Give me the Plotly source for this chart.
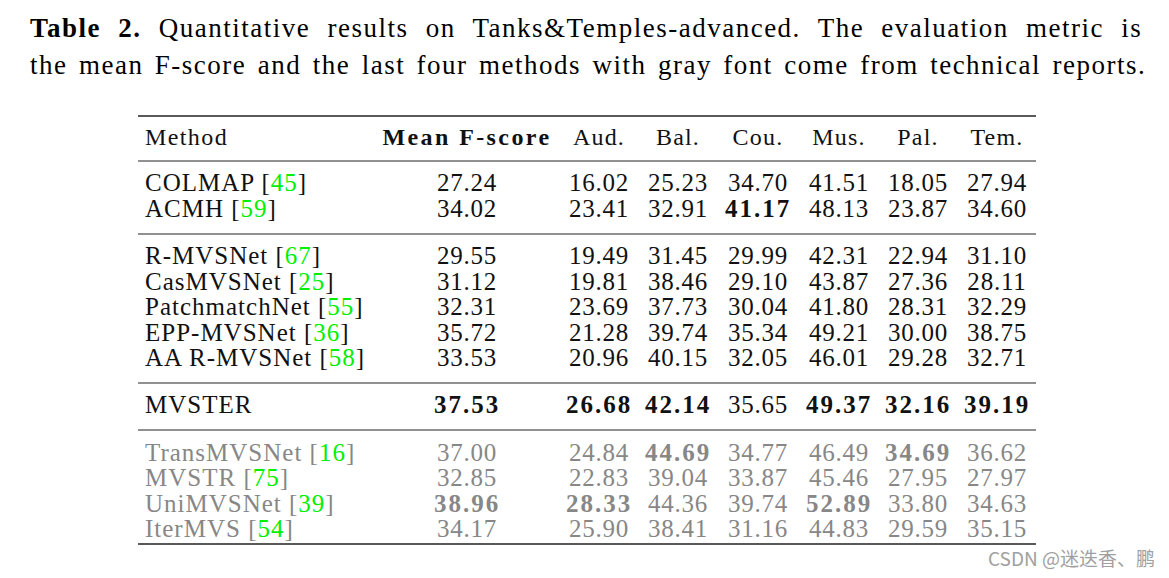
import plotly.graph_objects as go

# ---------------- data ----------------
title_lines = [
    "<b>Table 2.</b> Quantitative results on Tanks&amp;Temples-advanced. The evaluation metric is",
    "the mean F-score and the last four methods with gray font come from technical reports.",
]
headers = ["Method", "Mean F-score", "Aud.", "Bal.", "Cou.", "Mus.", "Pal.", "Tem."]
methods = ["COLMAP", "ACMH", "R-MVSNet", "CasMVSNet", "PatchmatchNet", "EPP-MVSNet",
           "AA R-MVSNet", "MVSTER", "TransMVSNet", "MVSTR", "UniMVSNet", "IterMVS"]
refs = ["45", "59", "67", "25", "55", "36", "58", None, "16", "75", "39", "54"]
groups = [0, 0, 1, 1, 1, 1, 1, 2, 3, 3, 3, 3]
gray_rows = [False] * 8 + [True] * 4

mean_f = [27.24, 34.02, 29.55, 31.12, 32.31, 35.72, 33.53, 37.53, 37.00, 32.85, 38.96, 34.17]
aud = [16.02, 23.41, 19.49, 19.81, 23.69, 21.28, 20.96, 26.68, 24.84, 22.83, 28.33, 25.90]
bal = [25.23, 32.91, 31.45, 38.46, 37.73, 39.74, 40.15, 42.14, 44.69, 39.04, 44.36, 38.41]
cou = [34.70, 41.17, 29.99, 29.10, 30.04, 35.34, 32.05, 35.65, 34.77, 33.87, 39.74, 31.16]
mus = [41.51, 48.13, 42.31, 43.87, 41.80, 49.21, 46.01, 49.37, 46.49, 45.46, 52.89, 44.83]
pal = [18.05, 23.87, 22.94, 27.36, 28.31, 30.00, 29.28, 32.16, 34.69, 27.95, 33.80, 29.59]
tem = [27.94, 34.60, 31.10, 28.11, 32.29, 38.75, 32.71, 39.19, 36.62, 27.97, 34.63, 35.15]

# bold flags per column (row indices)
bold_mean = [7, 10]
bold_aud = [7, 10]
bold_bal = [7, 8]
bold_cou = [1]
bold_mus = [7, 10]
bold_pal = [7, 8]
bold_tem = [7]

watermark = "CSDN @迷迭香、鹏"

# ---------------- layout constants ----------------
W, H = 1169, 578
PAD = 8                      # browser body margin
FONT = "Liberation Serif"
BLACK = "#111111"
GRAY = "#878787"
GREEN = "#00f000"
TFS = 25                     # table font size
x_method = 145
x_cols = [467, 599, 678, 758, 839, 918, 997]
y_header = 139
y_first = 185
pitch = 25.6
gap = 21.5
rule_x0, rule_x1 = 138, 1036


def row_y(i):
    return y_first + i * pitch + groups[i] * gap


rows_y = [row_y(i) for i in range(len(methods))]

fig = go.Figure()

# method column
method_txt = []
for m, r, g in zip(methods, refs, gray_rows):
    c = GRAY if g else BLACK
    s = f"<span style='color:{c}'>{m}"
    if r:
        s += f" [<span style='color:{GREEN}'>{r}</span>]"
    s += "</span>"
    method_txt.append(f"<span style='letter-spacing:1px'>{s}</span>")

fig.add_trace(go.Scatter(
    x=[x_method] * len(methods), y=rows_y, mode="text", text=method_txt,
    textposition="middle right", textfont=dict(family=FONT, size=TFS, color=BLACK),
    hoverinfo="skip", showlegend=False, cliponaxis=False))

cols = [(mean_f, bold_mean), (aud, bold_aud), (bal, bold_bal), (cou, bold_cou),
        (mus, bold_mus), (pal, bold_pal), (tem, bold_tem)]
for xc, (vals, bolds) in zip(x_cols, cols):
    txt = []
    colors = []
    for i, v in enumerate(vals):
        s = f"{v:.2f}"
        if i in bolds:
            s = f"<b><span style='letter-spacing:2px'>{s}</span></b>"
        else:
            s = f"<span style='letter-spacing:0.8px'>{s}</span>"
        txt.append(s)
        colors.append(GRAY if gray_rows[i] else BLACK)
    fig.add_trace(go.Scatter(
        x=[xc] * len(vals), y=rows_y, mode="text", text=txt,
        textposition="middle center",
        textfont=dict(family=FONT, size=TFS, color=colors),
        hoverinfo="skip", showlegend=False, cliponaxis=False))

# header
hdr_txt = [f"<span style='letter-spacing:1.4px'>{headers[0]}</span>",
           f"<b><span style='letter-spacing:2.4px'>{headers[1]}</span></b>"] + \
          [f"<span style='letter-spacing:1.2px'>{h}</span>" for h in headers[2:]]
fig.add_trace(go.Scatter(
    x=[x_method], y=[y_header], mode="text", text=hdr_txt[:1],
    textposition="middle right", textfont=dict(family=FONT, size=TFS - 1, color=BLACK),
    hoverinfo="skip", showlegend=False, cliponaxis=False))
fig.add_trace(go.Scatter(
    x=x_cols, y=[y_header] * len(x_cols), mode="text", text=hdr_txt[1:],
    textposition="middle center", textfont=dict(family=FONT, size=TFS - 1, color=BLACK),
    hoverinfo="skip", showlegend=False, cliponaxis=False))

# rules
rule_y = [116, 161, 234, 383, 430, 544]
rule_w = [1.6, 1.1, 1.1, 1.1, 1.1, 1.6]
for y, w in zip(rule_y, rule_w):
    fig.add_shape(type="line", xref="x", yref="y", x0=rule_x0, x1=rule_x1, y0=y, y1=y,
                  line=dict(color="#222222", width=w))

# caption (justified with word spacing)
title_ws = [9.0, 3.2]
for k, line in enumerate(title_lines):
    fig.add_annotation(x=28, y=28 + k * 37, xref="x", yref="y",
                       text=f"<span style='letter-spacing:1.5px;word-spacing:{title_ws[k]}px'>{line}</span>",
                       showarrow=False, xanchor="left", yanchor="middle",
                       font=dict(family=FONT, size=27, color="#000000"))

fig.add_annotation(x=1157, y=557, xref="x", yref="y", text=watermark, showarrow=False,
                   xanchor="right", yanchor="middle",
                   font=dict(family="Noto Sans CJK SC", size=19, color="#a0a0a0"))

fig.update_xaxes(range=[PAD, W - PAD], visible=False, fixedrange=True)
fig.update_yaxes(range=[H - PAD, PAD], visible=False, fixedrange=True)
fig.update_layout(width=W - 2 * PAD, height=H - 2 * PAD, margin=dict(l=0, r=0, t=0, b=0),
                  plot_bgcolor="white", paper_bgcolor="white")

fig.write_html("out.html")
